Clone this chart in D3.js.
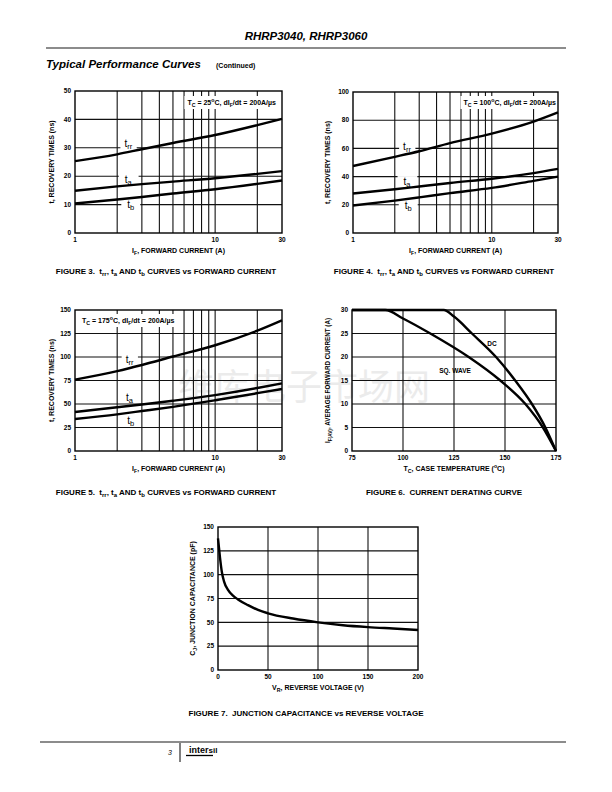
<!DOCTYPE html>
<html lang="en">
<head>
<meta charset="UTF-8">
<title>RHRP3040, RHRP3060 - Typical Performance Curves</title>
<script src="https://cdn.jsdelivr.net/npm/d3@7"></script>
<style>
  body { margin: 0; background: white; }
  svg { display: block; font-family: "Liberation Sans", Arial, sans-serif; font-weight: bold; }
  .grid { stroke: #111; stroke-width: 1.1; }
  .frame { fill: none; stroke: #000; stroke-width: 1.4; }
  .curve { fill: none; stroke: #000; stroke-width: 2.4; stroke-linejoin: round; }
  .tick { font-size: 6.5px; }
  .axislabel { font-size: 7px; }
  .caption { font-size: 8px; }
  .note { font-size: 7px; }
  .curvelabel { font-size: 10px; font-weight: normal; }
  .boldlabel { font-size: 6.5px; }
</style>
</head>
<body>
<svg id="page" width="612" height="792"></svg>
<script>
// ---- values ----
// fig 3-5: recovery times vs forward current
const currentA = [1, 2, 3, 5, 10, 20, 30];
const fig3Trr = [25.3, 27.7, 29.5, 31.7, 34.5, 38.0, 40.2];
const fig3Ta  = [14.9, 16.4, 17.2, 18.1, 19.3, 20.8, 21.8];
const fig3Tb  = [10.4, 11.8, 12.7, 13.9, 15.4, 17.3, 18.5];
const fig4Trr = [47.5, 54, 58, 63.8, 70.5, 79, 85.5];
const fig4Ta  = [28, 31, 33, 35.5, 38.5, 42.5, 45.5];
const fig4Tb  = [19.5, 23, 25.3, 28.3, 32, 37, 40];
const fig5Trr = [76, 85, 91.5, 100.5, 112.5, 128, 139];
const fig5Ta  = [41.5, 46.5, 49.5, 53.5, 59.5, 67, 72];
const fig5Tb  = [34, 39, 42.5, 47, 54, 61.5, 66];
const currentTicks = [1, 10, 30];
const currentGrid = [2, 3, 4, 5, 6, 7, 8, 9, 10, 20];
const fig3Ticks = [0, 10, 20, 30, 40, 50];
const fig4Ticks = [0, 20, 40, 60, 80, 100];
const fig5Ticks = [0, 25, 50, 75, 100, 125, 150];

// fig 6: derating
const dcTemp    = [75, 120, 125, 133.8, 145.6, 155, 163.2, 169.8, 175];
const dcCurrent = [30, 30, 28.6, 25, 20, 15, 10, 5, 0];
const sqTemp    = [75, 91.3, 100, 113.4, 132.2, 147.7, 160, 168.6, 175];
const sqCurrent = [30, 30, 28.2, 25, 20, 15, 10, 5, 0];
const tempTicks = [75, 100, 125, 150, 175];
const ampTicks  = [0, 5, 10, 15, 20, 25, 30];

// fig 7: junction capacitance
const revVolt     = [0, 1, 2, 4, 6, 10, 15, 20, 30, 40, 50, 75, 100, 125, 150, 175, 200];
const junctionCap = [138, 128, 118, 102, 93, 84, 78, 74, 68, 63, 59.5, 54, 50, 47, 45, 43.5, 42];
const voltTicks = [0, 50, 100, 150, 200];
const capTicks  = [0, 25, 50, 75, 100, 125, 150];

const page = d3.select("#page");

// text with sub/superscript pieces: [["t"], ["rr", "sub"]]
function rich(sel, parts) {
  let shift = 0;
  parts.forEach(([s, kind]) => {
    const target = kind === "sub" ? 2 : kind === "sup" ? -3 : 0;
    sel.append("tspan")
      .attr("dy", target - shift)
      .attr("font-size", kind ? "75%" : null)
      .text(s);
    shift = target;
  });
  return sel;
}

// watermark behind everything
page.append("text")
  .attr("x", 304).attr("y", 400)
  .attr("text-anchor", "middle")
  .style("font-family", "'Noto Sans CJK SC', sans-serif")
  .style("font-weight", "normal")
  .attr("font-size", 36)
  .attr("fill", "#ebebeb")
  .text("维库电子市场网");

// header
page.append("text").attr("x", 306).attr("y", 40).attr("text-anchor", "middle")
  .attr("font-size", 11.5).attr("font-style", "italic").text("RHRP3040, RHRP3060");
page.append("line").attr("x1", 46).attr("x2", 566).attr("y1", 48).attr("y2", 48)
  .attr("stroke", "#8c8c8c").attr("stroke-width", 2);
page.append("text").attr("x", 46).attr("y", 68)
  .attr("font-size", 11.5).attr("font-style", "italic").text("Typical Performance Curves");
page.append("text").attr("x", 216).attr("y", 68).attr("font-size", 7).text("(Continued)");

function drawPanel(p) {
  const g = page.append("g");
  const [x0, x1] = p.x.range();
  const [y1, y0] = p.y.range();

  g.selectAll(".vgrid").data(p.xGrid).join("line").attr("class", "grid")
    .attr("x1", d => p.x(d)).attr("x2", d => p.x(d)).attr("y1", y0).attr("y2", y1);
  g.selectAll(".hgrid").data(p.yGrid).join("line").attr("class", "grid")
    .attr("y1", d => p.y(d)).attr("y2", d => p.y(d)).attr("x1", x0).attr("x2", x1);

  const bg = g.append("g");
  const line = d3.line().x(d => p.x(d[0])).y(d => p.y(d[1])).curve(d3.curveMonotoneX);
  p.series.forEach(s => {
    g.append("path").attr("class", "curve").attr("d", line(d3.zip(s.x, s.y)));
  });

  // curve labels (some sit on a white patch that breaks the grid)
  (p.labels || []).forEach(l => {
    const t = rich(g.append("text").attr("class", l.cls || "curvelabel")
      .attr("x", p.x(l.x)).attr("y", p.y(l.y)).attr("text-anchor", "middle"), l.parts);
    if (l.pad) {
      const b = t.node().getBBox();
      bg.append("rect").attr("x", b.x - l.pad).attr("y", b.y)
        .attr("width", b.width + 2 * l.pad).attr("height", b.height).attr("fill", "white");
    }
  });

  // condition note in the corner
  if (p.note) {
    const t = rich(g.append("text").attr("class", "note")
      .attr("x", p.note.anchor === "end" ? x1 - p.note.dx : x0 + p.note.dx)
      .attr("y", y0 + p.note.dy)
      .attr("text-anchor", p.note.anchor), p.note.parts);
    const b = t.node().getBBox();
    bg.append("rect").attr("x", b.x - 3).attr("y", b.y - 1)
      .attr("width", b.width + 6).attr("height", b.height + 2).attr("fill", "white");
  }

  g.append("rect").attr("class", "frame")
    .attr("x", x0).attr("y", y0).attr("width", x1 - x0).attr("height", y1 - y0);

  g.selectAll(".xt").data(p.xTicks).join("text").attr("class", "tick")
    .attr("x", d => p.x(d)).attr("y", y1 + 9).attr("text-anchor", "middle").text(d => d);
  g.selectAll(".yt").data(p.yTicks).join("text").attr("class", "tick")
    .attr("x", x0 - 4).attr("y", d => p.y(d)).attr("dy", "0.35em")
    .attr("text-anchor", "end").text(d => d);

  rich(g.append("text").attr("class", "axislabel")
    .attr("x", (x0 + x1) / 2).attr("y", y1 + 20).attr("text-anchor", "middle"), p.xLabel);
  const yl = rich(g.append("text").attr("class", "axislabel")
    .attr("transform", `translate(${x0 - (p.yGap || 21)},${(y0 + y1) / 2}) rotate(-90)`)
    .attr("text-anchor", "middle"), p.yLabel);
  if (p.yLabelSize) yl.style("font-size", p.yLabelSize + "px");

  rich(g.append("text").attr("class", "caption")
    .attr("x", p.caption.x).attr("y", p.caption.y).attr("text-anchor", "middle"), p.caption.parts);
}

const ifLabel = [["I"], ["F", "sub"], [", FORWARD CURRENT (A)"]];
const tLabel = [["t, RECOVERY TIMES (ns)"]];
const curvesCaption = n => [["FIGURE " + n + ".\u00a0 t"], ["rr", "sub"], [", t"], ["a", "sub"],
  [" AND t"], ["b", "sub"], [" CURVES vs FORWARD CURRENT"]];
const noteParts = temp => [["T"], ["C", "sub"], [" = " + temp], ["o", "sup"], ["C, dI"], ["F", "sub"],
  ["/dt = 200A/\u00b5s"]];
const trrLbl = [["t"], ["rr", "sub"]];
const taLbl = [["t"], ["a", "sub"]];
const tbLbl = [["t"], ["b", "sub"]];

// FIGURE 3
drawPanel({
  x: d3.scaleLog().domain([1, 30]).range([75, 282]),
  y: d3.scaleLinear().domain([0, 50]).range([233, 91]),
  xGrid: currentGrid, yGrid: [10, 20, 30, 40], xTicks: currentTicks, yTicks: fig3Ticks,
  series: [{ x: currentA, y: fig3Trr }, { x: currentA, y: fig3Ta }, { x: currentA, y: fig3Tb }],
  labels: [
    { x: 2.4, y: 30.3, parts: trrLbl, pad: 4 },
    { x: 2.4, y: 17.6, parts: taLbl, pad: 6 },
    { x: 2.5, y: 8.8, parts: tbLbl, pad: 6 }
  ],
  note: { anchor: "end", dx: 6, dy: 14, parts: noteParts(25) },
  xLabel: ifLabel, yLabel: tLabel,
  caption: { x: 166, y: 274, parts: curvesCaption(3) }
});

// FIGURE 4
drawPanel({
  x: d3.scaleLog().domain([1, 30]).range([353, 558]),
  y: d3.scaleLinear().domain([0, 100]).range([233, 92]),
  xGrid: currentGrid, yGrid: [20, 40, 60, 80], xTicks: currentTicks, yTicks: fig4Ticks,
  series: [{ x: currentA, y: fig4Trr }, { x: currentA, y: fig4Ta }, { x: currentA, y: fig4Tb }],
  labels: [
    { x: 2.45, y: 59, parts: trrLbl, pad: 4 },
    { x: 2.45, y: 34, parts: taLbl, pad: 6 },
    { x: 2.5, y: 17, parts: tbLbl, pad: 6 }
  ],
  note: { anchor: "end", dx: 2, dy: 13, parts: noteParts(100) },
  xLabel: ifLabel, yLabel: tLabel, yGap: 23,
  caption: { x: 444, y: 274, parts: curvesCaption(4) }
});

// FIGURE 5
drawPanel({
  x: d3.scaleLog().domain([1, 30]).range([75, 282]),
  y: d3.scaleLinear().domain([0, 150]).range([451, 310]),
  xGrid: currentGrid, yGrid: [25, 50, 75, 100, 125], xTicks: currentTicks, yTicks: fig5Ticks,
  series: [{ x: currentA, y: fig5Trr }, { x: currentA, y: fig5Ta }, { x: currentA, y: fig5Tb }],
  labels: [
    { x: 2.45, y: 93.6, parts: trrLbl, pad: 4 },
    { x: 2.45, y: 53, parts: taLbl },
    { x: 2.5, y: 28.7, parts: tbLbl }
  ],
  note: { anchor: "start", dx: 7, dy: 13, parts: noteParts(175) },
  xLabel: ifLabel, yLabel: tLabel,
  caption: { x: 166, y: 495, parts: curvesCaption(5) }
});

// FIGURE 6
drawPanel({
  x: d3.scaleLinear().domain([75, 175]).range([352, 556]),
  y: d3.scaleLinear().domain([0, 30]).range([451, 310]),
  xGrid: [100, 125, 150], yGrid: [5, 10, 15, 20, 25], xTicks: tempTicks, yTicks: ampTicks,
  series: [{ x: dcTemp, y: dcCurrent }, { x: sqTemp, y: sqCurrent }],
  labels: [
    { x: 143.6, y: 22.3, parts: [["DC"]], cls: "boldlabel" },
    { x: 125.5, y: 16.6, parts: [["SQ. WAVE"]], cls: "boldlabel" }
  ],
  xLabel: [["T"], ["C", "sub"], [", CASE TEMPERATURE ("], ["o", "sup"], ["C)"]],
  yLabel: [["I"], ["F(AV)", "sub"], [", AVERAGE FORWARD CURRENT (A)"]], yGap: 22, yLabelSize: 6.3,
  caption: { x: 444, y: 495, parts: [["FIGURE 6.\u00a0 CURRENT DERATING CURVE"]] }
});

// FIGURE 7
drawPanel({
  x: d3.scaleLinear().domain([0, 200]).range([218, 418]),
  y: d3.scaleLinear().domain([0, 150]).range([670, 527]),
  xGrid: [50, 100, 150], yGrid: [25, 50, 75, 100, 125], xTicks: voltTicks, yTicks: capTicks,
  series: [{ x: revVolt, y: junctionCap }],
  xLabel: [["V"], ["R", "sub"], [", REVERSE VOLTAGE (V)"]],
  yLabel: [["C"], ["J", "sub"], [", JUNCTION CAPACITANCE (pF)"]], yGap: 23,
  caption: { x: 306, y: 716, parts: [["FIGURE 7.\u00a0 JUNCTION CAPACITANCE vs REVERSE VOLTAGE"]] }
});

// footer
page.append("line").attr("x1", 40).attr("x2", 566).attr("y1", 742).attr("y2", 742)
  .attr("stroke", "#8c8c8c").attr("stroke-width", 2);
page.append("text").attr("x", 170).attr("y", 755).attr("font-size", 7)
  .attr("font-weight", "normal").attr("font-style", "italic").attr("text-anchor", "middle").text("3");
page.append("line").attr("x1", 180).attr("x2", 180).attr("y1", 743).attr("y2", 762)
  .attr("stroke", "#000").attr("stroke-width", 1);
const logo = page.append("text").attr("x", 189).attr("y", 753).attr("font-size", 9);
logo.append("tspan").text("inter");
logo.append("tspan").attr("font-size", 8).text("sil");
page.append("line").attr("x1", 186).attr("x2", 213).attr("y1", 755.5).attr("y2", 755.5)
  .attr("stroke", "#000").attr("stroke-width", 1.3);
</script>
</body>
</html>
